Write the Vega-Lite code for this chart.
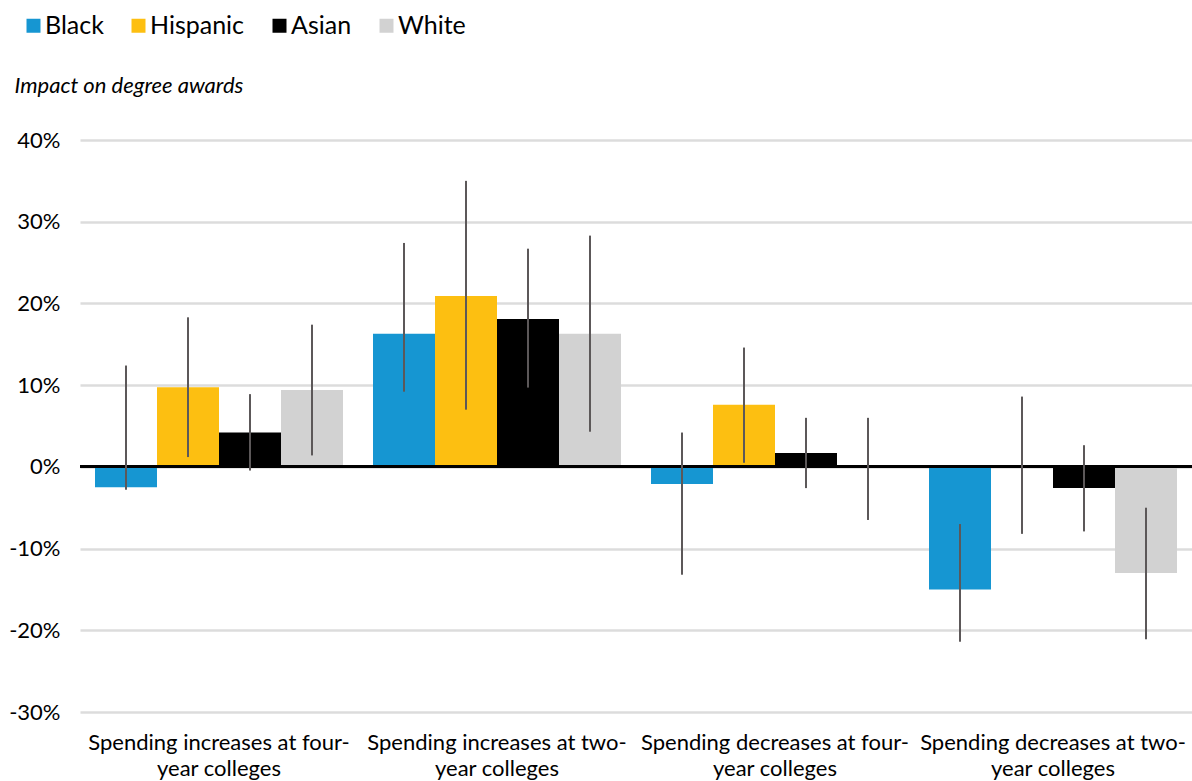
{
  "$schema": "https://vega.github.io/schema/vega-lite/v6.json",
  "width": 1112,
  "height": 572,
  "autosize": {"type": "none"},
  "padding": {"left": 80, "top": 140, "right": 0, "bottom": 69},
  "background": "white",
  "config": {
    "font": "Lato",
    "view": {"stroke": null}
  },
  "data": {
    "values": [
      {"group": "Spending increases at four-|year colleges", "race": "Black", "value": -2.5, "lo": -2.8, "hi": 12.4},
      {"group": "Spending increases at four-|year colleges", "race": "Hispanic", "value": 9.75, "lo": 1.2, "hi": 18.3},
      {"group": "Spending increases at four-|year colleges", "race": "Asian", "value": 4.2, "lo": -0.45, "hi": 8.9},
      {"group": "Spending increases at four-|year colleges", "race": "White", "value": 9.4, "lo": 1.4, "hi": 17.4},
      {"group": "Spending increases at two-|year colleges", "race": "Black", "value": 16.3, "lo": 9.2, "hi": 27.4},
      {"group": "Spending increases at two-|year colleges", "race": "Hispanic", "value": 20.9, "lo": 7.0, "hi": 35.0},
      {"group": "Spending increases at two-|year colleges", "race": "Asian", "value": 18.1, "lo": 9.7, "hi": 26.7},
      {"group": "Spending increases at two-|year colleges", "race": "White", "value": 16.3, "lo": 4.3, "hi": 28.3},
      {"group": "Spending decreases at four-|year colleges", "race": "Black", "value": -2.1, "lo": -13.2, "hi": 4.2},
      {"group": "Spending decreases at four-|year colleges", "race": "Hispanic", "value": 7.6, "lo": 0.5, "hi": 14.6},
      {"group": "Spending decreases at four-|year colleges", "race": "Asian", "value": 1.7, "lo": -2.6, "hi": 6.0},
      {"group": "Spending decreases at four-|year colleges", "race": "White", "value": -0.1, "lo": -6.5, "hi": 6.0},
      {"group": "Spending decreases at two-|year colleges", "race": "Black", "value": -15.0, "lo": -21.4, "hi": -7.0},
      {"group": "Spending decreases at two-|year colleges", "race": "Hispanic", "value": 0.1, "lo": -8.2, "hi": 8.6},
      {"group": "Spending decreases at two-|year colleges", "race": "Asian", "value": -2.6, "lo": -7.9, "hi": 2.65},
      {"group": "Spending decreases at two-|year colleges", "race": "White", "value": -13.0, "lo": -21.1, "hi": -5.0}
    ]
  },
  "encoding": {
    "x": {
      "field": "group",
      "type": "nominal",
      "sort": null,
      "scale": {"paddingInner": 0, "paddingOuter": 0},
      "axis": {
        "title": null,
        "labelAngle": 0,
        "labelExpr": "split(datum.label, '|')",
        "labelFontSize": 22,
        "labelColor": "#000000",
        "labelLineHeight": 26,
        "labelPadding": 20,
        "labelLimit": 0,
        "ticks": false,
        "domain": false,
        "labelFont": "Lato"
      }
    },
    "xOffset": {
      "field": "race",
      "type": "nominal",
      "sort": ["Black", "Hispanic", "Asian", "White"],
      "scale": {"paddingInner": 0, "paddingOuter": 0.242}
    }
  },
  "layer": [
    {
      "mark": {"type": "bar"},
      "encoding": {
        "y": {
          "field": "value",
          "type": "quantitative",
          "scale": {"domain": [-30, 40], "nice": false},
          "axis": {
            "values": [-30, -20, -10, 0, 10, 20, 30, 40],
            "labelExpr": "datum.value + '%'",
            "labelFontSize": 22,
            "labelColor": "#000000",
            "labelPadding": 20,
            "ticks": false,
            "domain": false,
            "grid": true,
            "gridColor": "#dcdcdc",
            "gridWidth": 2.5,
            "title": "Impact on degree awards",
            "titleAngle": 0,
            "titleAlign": "left",
            "titleBaseline": "middle",
            "titleX": -66,
            "titleY": -55,
            "titleFont": "Lato",
            "titleFontStyle": "italic",
            "titleFontWeight": "normal",
            "titleFontSize": 22,
            "titleColor": "#000000"
          }
        },
        "color": {
          "field": "race",
          "type": "nominal",
          "sort": ["Black", "Hispanic", "Asian", "White"],
          "scale": {
            "domain": ["Black", "Hispanic", "Asian", "White"],
            "range": ["#1696d2", "#fdbf11", "#000000", "#d2d2d2"]
          },
          "legend": {
            "title": null,
            "orient": "none",
            "legendX": -59,
            "legendY": -127,
            "direction": "horizontal",
            "symbolType": "square",
            "symbolSize": 196,
            "symbolStrokeWidth": 0,
            "labelFontSize": 25,
            "labelFont": "Lato",
            "labelColor": "#000000",
            "labelOffset": -1,
            "columnPadding": 22,
            "symbolOpacity": 1
          }
        }
      }
    },
    {
      "mark": {"type": "rule", "color": "#000000", "strokeWidth": 2.5},
      "encoding": {
        "y": {"datum": 0, "type": "quantitative"},
        "x": null,
        "xOffset": null
      }
    },
    {
      "mark": {"type": "rule", "color": "#5c5859", "strokeWidth": 2},
      "encoding": {
        "y": {"field": "lo", "type": "quantitative"},
        "y2": {"field": "hi"}
      }
    }
  ]
}
